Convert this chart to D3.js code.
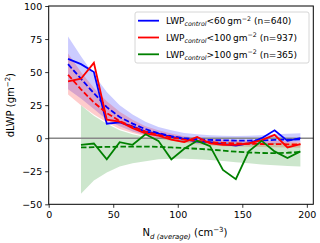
<!DOCTYPE html>
<html>
<head>
<meta charset="utf-8">
<script src="https://cdn.jsdelivr.net/npm/d3@7"></script>
<style>
  body { margin: 0; background: #fff; }
  svg text { font-family: "DejaVu Sans", sans-serif; fill: #000; }
</style>
</head>
<body>
<div id="chart"></div>
<script>
// bin centres
var xsFull = [15, 25, 35, 45, 55, 65, 75, 85, 95, 105, 115, 125, 135, 145, 155, 165, 175, 185, 195];
var xsGreen = [25, 35, 45, 55, 65, 75, 85, 95, 105, 115, 125, 135, 145, 155, 165, 175, 185, 195];

// LWP < 60
var blueSolid = [60, 56, 50, 11, 12, 9, 5, 3.5, 1, -0.6, -2.6, -3, -4.5, -5.5, -4, 0, 6, -2, 0];
var blueFit   = [56, 45, 34, 23.5, 16, 11, 6.8, 3.8, 1.5, 0, -0.8, -1.3, -1.6, -1.8, -1.8, -1.6, -1.3, -1.1, -0.9];
var blueHi    = [77, 62, 48, 35, 25, 18, 12.5, 8.5, 6, 4, 3, 2.2, 1.8, 1.6, 1.8, 2.2, 3, 3.4, 3.7];
var blueLo    = [37, 30, 22, 14, 9, 5, 2.2, 0.3, -1.2, -2.5, -3.5, -4.3, -5, -5.2, -5.2, -5, -4.3, -3.6, -3];

// LWP < 100
var redSolid = [43, 45, 57, 14, 12.5, 7.5, 3.7, 2, -1, -3, 1, -4, -5, -5, -4, -1.5, 2.5, -7, -4.5];
var redFit   = [48, 37, 27, 19, 13, 8.5, 5, 2.5, 0.5, -1, -2, -3, -3.5, -4, -4.2, -4.4, -4.5, -4.6, -4.6];
var redHi    = [64, 50, 38, 28, 20, 14, 9, 6, 3.5, 1.5, 0.5, -0.5, -1, -1.5, -1.8, -2, -2.2, -2.4, -2.6];
var redLo    = [33, 25, 18, 12, 7, 4, 1.5, -0.5, -2, -3.5, -4.5, -5.5, -6, -6.3, -6.5, -6.7, -6.9, -7, -7.2];

// LWP > 100
var greenSolid = [-5, -4, -16, -3, -5, 3, -2, -16, -8, -2, -6, -24, -31, -10, -2, -10, -15, -10];
var greenFit   = [-7, -6.8, -6.6, -6.4, -6.3, -6.3, -6.5, -7, -7.5, -8, -8.6, -9.4, -10.2, -10.8, -11.2, -11.3, -11, -10.4];
var greenHi    = [25, 17, 11, 6, 3, 1, 0, -1, -1.5, -2, -2.5, -3, -3.3, -3.5, -3.6, -3.7, -3.9, -4];
var greenLo    = [-42, -32, -26, -21.5, -19, -17.5, -16, -15.5, -15.5, -16, -16.5, -17.3, -18.2, -19, -19.8, -20.5, -21, -21.5];

var legendLabels = [
  {lt: "<60", n: "640", color: "#0000ff"},
  {lt: "<100", n: "937", color: "#ff0000"},
  {lt: ">100", n: "365", color: "#008000"}
];
var xTicks = [0, 50, 100, 150, 200];
var yTicks = [-50, -25, 0, 25, 50, 75, 100];

var W = 320, H = 243;
var margin = {top: 6, left: 48.7, right: 6.7, bottom: 38.7};
var pw = W - margin.left - margin.right, ph = H - margin.top - margin.bottom;

var svg = d3.select("#chart").append("svg").attr("width", W).attr("height", H);
var g = svg.append("g").attr("transform", "translate(" + margin.left + "," + margin.top + ")");

var x = d3.scaleLinear().domain([0, 205]).range([0, pw]);
var y = d3.scaleLinear().domain([-50, 100]).range([ph, 0]);

function band(xs, lo, hi, col) {
  var area = d3.area().x(function (d, i) { return x(xs[i]); })
    .y0(function (d, i) { return y(lo[i]); })
    .y1(function (d, i) { return y(hi[i]); });
  g.append("path").attr("d", area(xs)).attr("fill", col).attr("fill-opacity", 0.2);
}
function line(xs, ys, col, dashed) {
  var ln = d3.line().x(function (d, i) { return x(xs[i]); }).y(function (d) { return y(d); });
  g.append("path").attr("d", ln(ys)).attr("fill", "none").attr("stroke", col)
    .attr("stroke-width", 1.8).attr("stroke-dasharray", dashed ? "5.5,2.4" : null);
}

band(xsFull, blueLo, blueHi, "#0000ff");
band(xsFull, redLo, redHi, "#ff0000");
band(xsGreen, greenLo, greenHi, "#008000");

g.append("line").attr("x1", 0).attr("x2", pw).attr("y1", y(0)).attr("y2", y(0))
  .attr("stroke", "#888").attr("stroke-width", 1.6);

line(xsFull, blueSolid, "#0000ff", false);
line(xsFull, blueFit, "#0000ff", true);
line(xsFull, redSolid, "#ff0000", false);
line(xsFull, redFit, "#ff0000", true);
line(xsGreen, greenSolid, "#008000", false);
line(xsGreen, greenFit, "#008000", true);

// axes
var fmt = function (d) { return d < 0 ? "\u2212" + Math.abs(d) : d; };
var xa = g.append("g").attr("transform", "translate(0," + ph + ")")
  .call(d3.axisBottom(x).tickValues(xTicks).tickFormat(fmt).tickSize(3.5).tickPadding(3));
var ya = g.append("g").call(d3.axisLeft(y).tickValues(yTicks).tickFormat(fmt).tickSize(3.5).tickPadding(3));
[xa, ya].forEach(function (a) {
  a.select(".domain").remove();
  a.selectAll("text").style("font-size", "9.5px").style("font-family", "DejaVu Sans");
  a.selectAll("line").attr("stroke", "#000").attr("stroke-width", 0.8);
});
g.append("rect").attr("width", pw).attr("height", ph).attr("fill", "none")
  .attr("stroke", "#000").attr("stroke-width", 1);

// axis labels
var xl = svg.append("text").attr("x", margin.left + pw / 2 + 4).attr("y", 236)
  .attr("text-anchor", "middle").style("font-size", "10px");
xl.append("tspan").text("N");
xl.append("tspan").attr("dy", 2.5).style("font-size", "7px").style("font-style", "italic").text("d (average)");
xl.append("tspan").attr("dy", -2.5).text(" (cm");
xl.append("tspan").attr("dy", -4).style("font-size", "7px").text("\u22123");
xl.append("tspan").attr("dy", 4).text(")");

var yl = svg.append("text").attr("transform", "translate(14," + (margin.top + ph / 2) + ") rotate(-90)")
  .attr("text-anchor", "middle").style("font-size", "10px");
yl.append("tspan").text("dLWP (gm");
yl.append("tspan").attr("dy", -4).style("font-size", "7px").text("\u22122");
yl.append("tspan").attr("dy", 4).text(")");

// legend
var lg = svg.append("g").attr("transform", "translate(135,12)");
lg.append("rect").attr("width", 174).attr("height", 51).attr("rx", 2)
  .attr("fill", "#fff").attr("fill-opacity", 0.8).attr("stroke", "#ccc").attr("stroke-width", 0.8);
legendLabels.forEach(function (d, i) {
  var cy = 8.7 + i * 16.8;
  lg.append("line").attr("x1", 3).attr("x2", 24).attr("y1", cy).attr("y2", cy)
    .attr("stroke", d.color).attr("stroke-width", 1.8);
  var t = lg.append("text").attr("x", 31).attr("y", cy + 3.3).style("font-size", "9px");
  t.append("tspan").text("LWP");
  t.append("tspan").attr("dy", 2).style("font-size", "6.3px").style("font-style", "italic").text("control");
  t.append("tspan").attr("dy", -2).text(d.lt + "\u2009gm");
  t.append("tspan").attr("dy", -3.5).style("font-size", "6.3px").text("\u22122");
  t.append("tspan").attr("dy", 3.5).text(" (n=" + d.n + ")");
});
</script>
</body>
</html>
